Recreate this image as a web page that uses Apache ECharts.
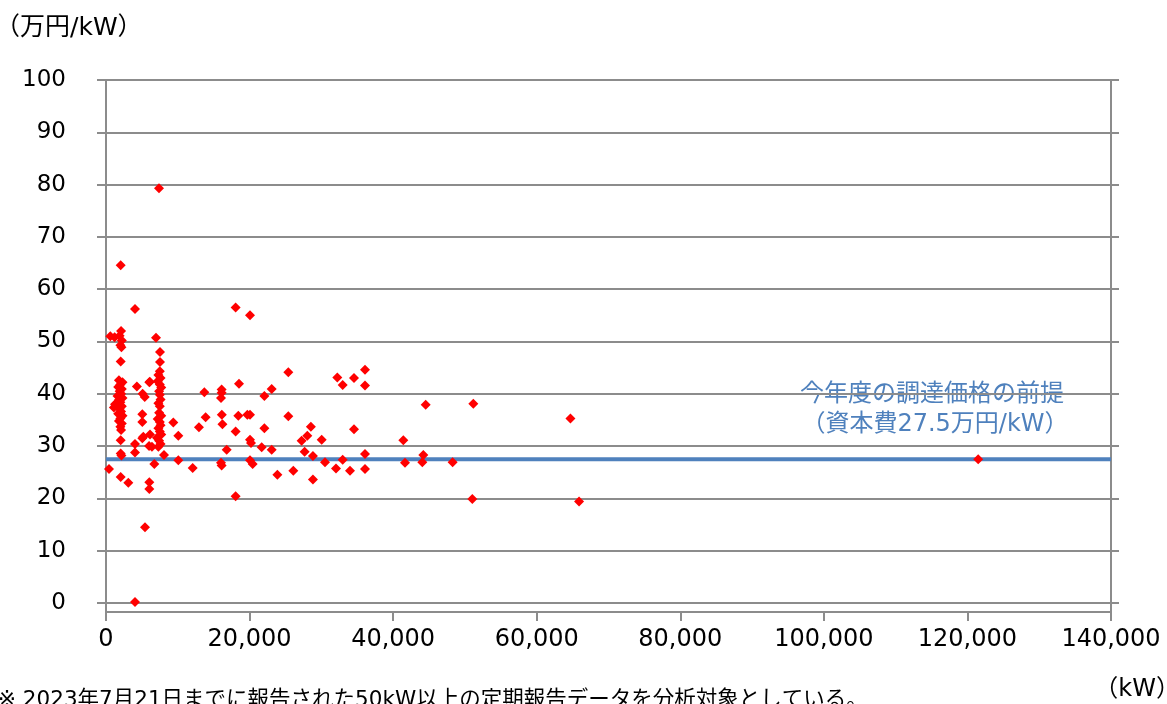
<!DOCTYPE html>
<html>
<head>
<meta charset="utf-8">
<title>資本費の分布</title>
<script src="https://cdn.jsdelivr.net/npm/echarts@6.0.0/dist/echarts.min.js"></script>
<style>
  html, body { margin: 0; padding: 0; background: #fff; }
  #chart { width: 1167px; height: 704px; }
</style>
</head>
<body>
<div id="chart"></div>
<script>
// 出力規模 (kW)
const capacity = [
  2050, 2100, 1900, 2200, 2000, 2150, 2050,
  1800, 2300, 2000, 1700, 2200, 1900, 2100, 1600, 2300, 1800, 2000, 1500, 2200,
  1900, 2100, 1700, 2300, 2000, 1800, 2200, 2000, 2100, 2050, 2050, 2150, 2050,
  1250, 1100, 600, 1200, 420,
  3110, 4040, 4040, 4040, 4040, 4300, 5100, 5400, 5060, 5060, 5060, 5200, 5430,
  6030, 6100, 6000, 6400, 6130, 6030, 6030, 6730, 6965, 7380,
  7520, 7520, 7500, 7300, 7600, 7200, 7500, 7700, 7400, 7500, 7600, 7300, 7500,
  7400, 7700, 7200, 7500, 7600, 7300, 7500, 7700, 7100, 7400, 7600, 7300,
  8080, 9380, 10070, 10070, 12080, 12950, 13700, 13880,
  16110, 16110, 16020, 16130, 16220, 16020, 16110, 16810,
  18060, 18530, 18430, 18060, 18060, 19690, 20060, 20060, 20060, 20200, 20060, 20430,
  21690, 22060, 22060, 23080, 23080, 23870, 25400, 25400, 26090, 27250, 27670,
  28040, 28540, 28830, 28830, 30050, 30510, 32040, 32220, 32970, 32970, 33990,
  34550, 34550, 36080, 36080, 36080, 36080, 41420, 41650, 44060, 44200, 44530,
  48290, 51030, 51170, 64700, 65900, 121500
];
// 資本費 (万円/kW)
const unitCost = [
  64.6, 52.0, 51.1, 50.2, 49.3, 48.9, 46.2,
  42.6, 42.2, 41.8, 41.3, 40.9, 40.5, 40.0, 39.6, 39.2, 38.8, 38.4, 38.0, 37.6,
  37.1, 36.6, 36.2, 35.8, 35.3, 34.8, 34.3, 33.7, 33.1, 31.1, 28.6, 28.2, 24.1,
  38.0, 37.4, 51.0, 50.8, 25.6,
  23.0, 56.2, 30.4, 28.8, 0.2, 41.4, 40.0, 39.4, 36.1, 34.6, 31.5, 31.8, 14.5,
  42.2, 42.3, 30.0, 29.9, 32.2, 23.1, 21.8, 26.6, 50.7, 79.3,
  48.0, 46.1, 44.3, 43.6, 43.0, 42.4, 41.8, 41.2, 40.5, 39.8, 38.9, 38.2, 37.6,
  36.4, 35.8, 35.2, 34.6, 34.0, 33.4, 32.8, 32.2, 31.6, 31.0, 30.4, 29.9,
  28.3, 34.5, 32.0, 27.3, 25.8, 33.6, 40.3, 35.5,
  40.8, 40.2, 39.2, 36.0, 34.2, 26.8, 26.3, 29.3,
  56.5, 41.9, 35.8, 32.8, 20.4, 36.0, 36.0, 55.0, 31.2, 30.6, 27.3, 26.6,
  29.8, 39.6, 33.4, 40.9, 29.3, 24.5, 44.1, 35.7, 25.3, 31.0, 28.9,
  32.0, 33.7, 28.1, 23.6, 31.2, 26.9, 25.7, 43.1, 41.7, 27.4, 25.3,
  43.0, 33.2, 44.6, 41.6, 28.5, 25.6, 31.1, 26.8, 26.9, 28.3, 37.9,
  26.9, 19.9, 38.1, 35.3, 19.4, 27.5
];

// 今年度の調達価格の前提 (資本費)
const assumedCost = 27.5;
const xRange = [0, 140000];
const yTicks = [0, 10, 20, 30, 40, 50, 60, 70, 80, 90, 100];

const font = "'DejaVu Sans', 'Noto Sans CJK JP', sans-serif";
const gridColor = '#8c8c8c';

const points = capacity.map((c, i) => [c, unitCost[i]]);

const chart = echarts.init(document.getElementById('chart'));
chart.setOption({
  animation: false,
  backgroundColor: '#fff',
  textStyle: { fontFamily: font },
  grid: { left: 106, right: 56, top: 80, bottom: 92, containLabel: false },
  xAxis: {
    type: 'value',
    min: xRange[0],
    max: xRange[1],
    interval: 20000,
    axisLine: { show: true, onZero: false, lineStyle: { color: gridColor, width: 2 } },
    axisTick: { show: true, length: 9, lineStyle: { color: gridColor, width: 2 } },
    splitLine: { show: false },
    axisLabel: {
      margin: 16,
      fontSize: 24,
      color: '#000',
      fontFamily: font,
      formatter: v => v.toLocaleString('en-US')
    }
  },
  yAxis: [
    {
      type: 'value',
      // 横軸は 0 より少し下で交差している
      min: -1.72,
      max: 100,
      axisLine: { show: true, lineStyle: { color: gridColor, width: 2 } },
      axisTick: { show: true, length: 9, customValues: yTicks, lineStyle: { color: gridColor, width: 2 } },
      splitLine: { show: true, lineStyle: { color: gridColor, width: 2 } },
      axisLabel: {
        customValues: yTicks,
        margin: 40,
        fontSize: 23,
        color: '#000',
        fontFamily: font
      }
    },
    {
      type: 'value',
      position: 'right',
      min: -1.72,
      max: 100,
      axisLine: { show: true, lineStyle: { color: gridColor, width: 2 } },
      axisTick: { show: true, length: 8, customValues: yTicks, lineStyle: { color: gridColor, width: 2 } },
      splitLine: { show: false },
      axisLabel: { show: false }
    }
  ],
  series: [
    {
      type: 'line',
      data: xRange.map(x => [x, assumedCost]),
      symbol: 'none',
      lineStyle: { color: '#4f81bd', width: 4 },
      z: 2
    },
    {
      type: 'scatter',
      data: points,
      symbol: 'diamond',
      symbolSize: 10,
      itemStyle: { color: '#ff0000', opacity: 1 },
      z: 3
    }
  ],
  graphic: [
    {
      type: 'text', left: -5, top: 16,
      style: { text: '（万円/kW）', fontSize: 25, fill: '#000', fontFamily: font }
    },
    {
      type: 'text', x: 932, y: 395,
      style: {
        text: '今年度の調達価格の前提', fontSize: 24, fill: '#4f81bd', fontFamily: font,
        textAlign: 'center', textVerticalAlign: 'middle'
      }
    },
    {
      type: 'text', x: 935, y: 425,
      style: {
        text: '（資本費27.5万円/kW）', fontSize: 24, fill: '#4f81bd', fontFamily: font,
        textAlign: 'center', textVerticalAlign: 'middle'
      }
    },
    {
      type: 'text', x: 1180, y: 690,
      style: {
        text: '（kW）', fontSize: 24, fill: '#000', fontFamily: font,
        textAlign: 'right', textVerticalAlign: 'middle'
      }
    },
    {
      type: 'text', x: -2, y: 700,
      style: {
        text: '※ 2023年7月21日までに報告された50kW以上の定期報告データを分析対象としている。',
        fontSize: 21.5, fill: '#000', fontFamily: font, textVerticalAlign: 'middle'
      }
    }
  ]
});
</script>
</body>
</html>
